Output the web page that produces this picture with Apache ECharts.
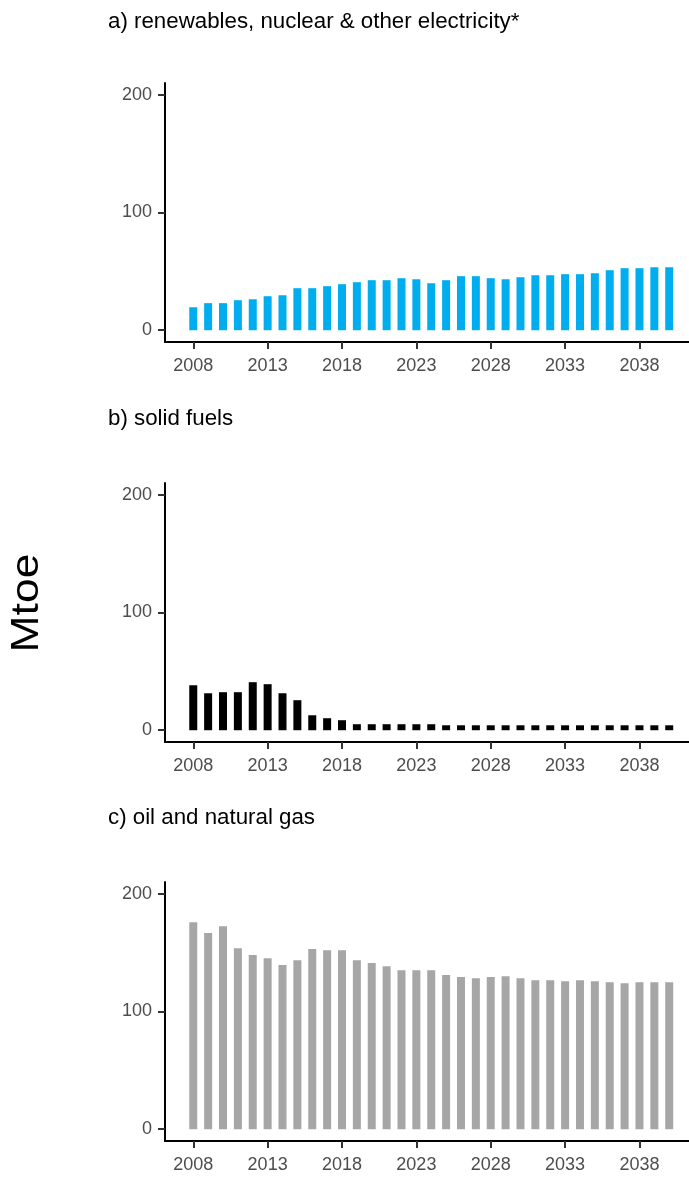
<!DOCTYPE html>
<html>
<head>
<meta charset="utf-8">
<script src="https://cdn.jsdelivr.net/npm/echarts@6/dist/echarts.min.js"></script>
<style>
  html, body { margin: 0; padding: 0; background: #fff; }
  #chart { width: 689px; height: 1178px; }
</style>
</head>
<body>
<div id="chart"></div>
<script>
// Years covered by every panel
const years = [2008, 2009, 2010, 2011, 2012, 2013, 2014, 2015, 2016, 2017, 2018,
  2019, 2020, 2021, 2022, 2023, 2024, 2025, 2026, 2027, 2028, 2029,
  2030, 2031, 2032, 2033, 2034, 2035, 2036, 2037, 2038, 2039, 2040];

// Final energy consumption by fuel group, Mtoe
const renewables = [19.5, 23.0, 23.0, 25.5, 26.3, 28.9, 29.7, 35.7, 35.7, 37.4, 39.1,
  40.8, 42.5, 42.5, 44.2, 43.3, 39.9, 42.5, 45.9, 45.9, 44.2, 43.3,
  45.0, 46.7, 46.7, 47.6, 47.6, 48.4, 51.0, 52.7, 52.7, 53.5, 53.5];
const solidFuels = [38.2, 31.4, 32.3, 32.3, 40.8, 39.1, 31.4, 25.5, 12.7, 10.2, 8.5,
  5.1, 5.1, 5.1, 5.1, 5.1, 5.1, 4.2, 4.2, 4.2, 4.2, 4.2,
  4.2, 4.2, 4.2, 4.2, 4.2, 4.2, 4.2, 4.2, 4.2, 4.2, 4.2];
const oilGas = [175.9, 166.6, 172.5, 153.8, 147.9, 145.3, 139.4, 143.6, 153.0, 152.1, 152.1,
  143.6, 141.1, 138.5, 135.1, 135.1, 135.1, 130.9, 129.2, 128.3, 129.2, 130.0,
  128.3, 126.6, 126.6, 125.8, 126.6, 125.8, 124.9, 124.1, 124.9, 124.9, 124.9];

// Tick labels
const xTicks = [2008, 2013, 2018, 2023, 2028, 2033, 2038];
const yTicks = [0, 100, 200];

const panelTitles = ['a) renewables, nuclear & other electricity*', 'b) solid fuels', 'c) oil and natural gas'];
const panelColors = ['#00AEEF', '#000000', '#A6A6A6'];
const panelData = [renewables, solidFuels, oilGas];

const gridTops = [83, 483, 882];
const titleTops = [11, 408, 807];
const plotHeight = 259;

const textFont = '"Liberation Sans", Arial, Helvetica, sans-serif';

const grids = [], xAxes = [], yAxes = [], series = [], titles = [];

panelData.forEach((values, i) => {
  grids.push({
    left: 165, right: 0, top: gridTops[i], height: plotHeight,
    outerBoundsMode: 'none', containLabel: false
  });
  xAxes.push({
    type: 'value', gridIndex: i, min: 2006.1, max: 2041.33,
    splitLine: { show: false },
    axisLine: { show: true, onZero: false, lineStyle: { color: '#000', width: 2 } },
    axisTick: { show: true, customValues: xTicks, length: 7, lineStyle: { color: '#333', width: 2 } },
    axisLabel: {
      customValues: xTicks, margin: 15, color: '#4d4d4d',
      fontFamily: textFont, fontSize: 18,
      formatter: v => String(v)
    }
  });
  yAxes.push({
    type: 'value', gridIndex: i, min: -10, max: 210,
    splitLine: { show: false },
    axisLine: { show: true, onZero: false, lineStyle: { color: '#000', width: 2 } },
    axisTick: { show: true, customValues: yTicks, length: 7, lineStyle: { color: '#333', width: 2 } },
    axisLabel: {
      customValues: yTicks, margin: 13, color: '#4d4d4d',
      fontFamily: textFont, fontSize: 18
    }
  });
  series.push({
    type: 'bar', xAxisIndex: i, yAxisIndex: i,
    barWidth: 8, silent: true,
    itemStyle: { color: panelColors[i] },
    data: years.map((y, k) => [y, values[k]])
  });
  titles.push({
    text: panelTitles[i], left: 108, top: titleTops[i], padding: 0,
    textStyle: { fontFamily: textFont, fontSize: 22.3, fontWeight: 'normal', color: '#000', lineHeight: 22 }
  });
});

const chart = echarts.init(document.getElementById('chart'), null, { renderer: 'canvas' });
chart.setOption({
  animation: false,
  backgroundColor: '#fff',
  title: titles,
  grid: grids,
  xAxis: xAxes,
  yAxis: yAxes,
  series: series,
  graphic: [{
    type: 'text',
    x: 27, y: 603,
    rotation: Math.PI / 2,
    scaleX: 1.14,
    style: {
      text: 'Mtoe',
      font: '39px "Liberation Sans", Arial, sans-serif',
      fill: '#000',
      align: 'center',
      verticalAlign: 'middle'
    }
  }]
});
</script>
</body>
</html>
